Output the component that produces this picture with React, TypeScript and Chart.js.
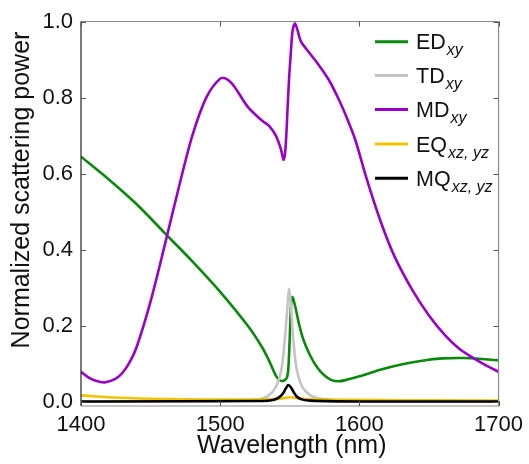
import React, { useEffect, useRef } from "react";
import { Chart, registerables } from "chart.js";

Chart.register(...registerables);

const xTicks = [1400, 1500, 1600, 1700];
const yTicks = [0, 0.2, 0.4, 0.6, 0.8, 1.0];

const edX = [1400, 1420, 1440, 1460, 1480, 1500, 1520, 1530, 1535, 1540, 1543, 1546, 1548, 1549, 1550, 1551, 1552, 1554, 1557, 1560, 1565, 1570, 1575, 1580, 1585, 1590, 1600, 1615, 1630, 1645, 1660, 1675, 1690, 1700];
const edY = [0.645, 0.585, 0.52, 0.445, 0.37, 0.29, 0.2, 0.145, 0.11, 0.07, 0.057, 0.057, 0.065, 0.09, 0.17, 0.26, 0.276, 0.25, 0.2, 0.162, 0.12, 0.09, 0.07, 0.058, 0.055, 0.058, 0.068, 0.085, 0.099, 0.109, 0.115, 0.116, 0.113, 0.11];

const tdX = [1400, 1500, 1520, 1530, 1535, 1540, 1543, 1545, 1547, 1548.5, 1549.5, 1550.5, 1552, 1554, 1556, 1559, 1565, 1575, 1600, 1700];
const tdY = [0.001, 0.002, 0.005, 0.01, 0.018, 0.04, 0.07, 0.11, 0.19, 0.26, 0.298, 0.27, 0.19, 0.11, 0.07, 0.04, 0.018, 0.008, 0.003, 0.001];

const mdX = [1400, 1405, 1410, 1417, 1425, 1430, 1435, 1440, 1450, 1460, 1470, 1480, 1490, 1500, 1505, 1510, 1520, 1530, 1535.3, 1540, 1543.6, 1545.5, 1546.5, 1547.5, 1548.4, 1549.5, 1550.8, 1552, 1553.7, 1555.5, 1558, 1564, 1570, 1578, 1585, 1591, 1597, 1605, 1615, 1625, 1638, 1650, 1662, 1672, 1682, 1691, 1700];
const mdY = [0.08, 0.066, 0.057, 0.052, 0.062, 0.078, 0.105, 0.145, 0.265, 0.41, 0.56, 0.7, 0.8, 0.85, 0.848, 0.83, 0.775, 0.74, 0.725, 0.7, 0.665, 0.637, 0.65, 0.7, 0.77, 0.85, 0.92, 0.975, 0.995, 0.978, 0.948, 0.918, 0.89, 0.847, 0.797, 0.747, 0.69, 0.59, 0.478, 0.385, 0.295, 0.228, 0.174, 0.14, 0.116, 0.097, 0.08];

const eqX = [1400, 1420, 1450, 1500, 1530, 1545, 1550, 1555, 1565, 1600, 1650, 1700];
const eqY = [0.018, 0.013, 0.009, 0.007, 0.007, 0.01, 0.013, 0.011, 0.008, 0.006, 0.005, 0.004];

const mqX = [1400, 1530, 1538, 1542, 1545, 1547, 1549, 1551, 1553, 1555, 1558, 1565, 1600, 1700];
const mqY = [0.002, 0.003, 0.006, 0.012, 0.022, 0.035, 0.045, 0.038, 0.025, 0.015, 0.008, 0.004, 0.002, 0.002];

const legendMain = ["ED", "TD", "MD", "EQ", "MQ"];
const legendSub = ["xy", "xy", "xy", "xz, yz", "xz, yz"];
const colors = ["#0a8a0a", "#c4c4c4", "#9a00cc", "#f2c400", "#000000"];

const FONT = "'Liberation Sans', Arial, sans-serif";

const pts = (xs: number[], ys: number[]) => xs.map((x, i) => ({ x, y: ys[i] }));

const framePlugin = {
  id: "frame",
  afterDraw(chart: any) {
    const { ctx, chartArea: a, scales } = chart;
    const xs = scales.x, ys = scales.y;
    ctx.save();
    ctx.lineWidth = 1.2;
    ctx.strokeStyle = "#8a8a8a";
    ctx.beginPath();
    ctx.moveTo(a.left, a.top); ctx.lineTo(a.right, a.top); ctx.lineTo(a.right, a.bottom); ctx.lineTo(a.left, a.bottom);
    ctx.stroke();
    ctx.strokeStyle = "#222";
    ctx.beginPath();
    ctx.moveTo(a.left, a.top); ctx.lineTo(a.left, a.bottom);
    ctx.stroke();
    ctx.strokeStyle = "#555";
    ctx.lineWidth = 1;
    const tl = 5;
    xTicks.forEach((v) => {
      const px = Math.round(xs.getPixelForValue(v)) + 0.5;
      ctx.beginPath();
      ctx.moveTo(px, a.bottom); ctx.lineTo(px, a.bottom - tl);
      ctx.moveTo(px, a.top); ctx.lineTo(px, a.top + tl);
      ctx.stroke();
    });
    yTicks.forEach((v) => {
      const py = Math.round(ys.getPixelForValue(v)) + 0.5;
      ctx.beginPath();
      ctx.moveTo(a.left, py); ctx.lineTo(a.left + tl, py);
      ctx.moveTo(a.right, py); ctx.lineTo(a.right - tl, py);
      ctx.stroke();
    });
    ctx.fillStyle = "#111";
    ctx.font = `25px ${FONT}`;
    ctx.textAlign = "center";
    ctx.textBaseline = "middle";
    ctx.fillText("Wavelength (nm)", (a.left + a.right) / 2 + 2, 446);
    ctx.save();
    ctx.translate(22, 190);
    ctx.rotate(-Math.PI / 2);
    ctx.fillText("Normalized scattering power", 0, 0);
    ctx.restore();
    const rows = [41.7, 75.5, 109.5, 144, 178.3];
    rows.forEach((ry, i) => {
      ctx.strokeStyle = colors[i];
      ctx.lineWidth = 3;
      ctx.beginPath();
      ctx.moveTo(375, ry); ctx.lineTo(408, ry);
      ctx.stroke();
      ctx.fillStyle = "#111";
      ctx.textAlign = "left";
      ctx.textBaseline = "alphabetic";
      ctx.font = `21.5px ${FONT}`;
      const base = ry + 7.5;
      ctx.fillText(legendMain[i], 416, base);
      const w = ctx.measureText(legendMain[i]).width;
      ctx.font = `italic 16px ${FONT}`;
      ctx.fillText(legendSub[i], 416 + w + 1, base + 6);
    });
    ctx.restore();
  },
};

export default function App() {
  const ref = useRef<HTMLCanvasElement>(null);
  useEffect(() => {
    document.body.style.margin = "0";
    const ds = [
      { label: "ED", data: pts(edX, edY), color: colors[0], order: 5, mono: false },
      { label: "TD", data: pts(tdX, tdY), color: colors[1], order: 4, mono: true },
      { label: "MD", data: pts(mdX, mdY), color: colors[2], order: 3, mono: false },
      { label: "EQ", data: pts(eqX, eqY), color: colors[3], order: 2, mono: true },
      { label: "MQ", data: pts(mqX, mqY), color: colors[4], order: 1, mono: true },
    ];
    const chart = new Chart(ref.current!, {
      type: "line",
      data: {
        datasets: ds.map((d) => ({
          label: d.label,
          data: d.data,
          borderColor: d.color,
          backgroundColor: d.color,
          borderWidth: 2.6,
          pointRadius: 0,
          cubicInterpolationMode: d.mono ? ("monotone" as const) : ("default" as const),
          tension: d.mono ? 0 : 0.3,
          fill: false,
          order: d.order,
        })),
      },
      options: {
        responsive: false,
        animation: false,
        layout: { padding: { top: 21.5, right: 29, left: 0, bottom: 0 } },
        plugins: { legend: { display: false }, tooltip: { enabled: false } },
        scales: {
          x: {
            type: "linear",
            min: 1400,
            max: 1700,
            grid: { display: false, drawTicks: false },
            border: { display: false },
            afterBuildTicks: (s: any) => { s.ticks = xTicks.map((v) => ({ value: v })); },
            afterFit: (s: any) => { s.height = 58; },
            ticks: { color: "#111", font: { family: FONT, size: 22 }, padding: 6, maxRotation: 0, callback: (v: any) => String(v) },
          },
          y: {
            type: "linear",
            min: -0.01,
            max: 1.0,
            grid: { display: false, drawTicks: false },
            border: { display: false },
            afterBuildTicks: (s: any) => { s.ticks = yTicks.map((v) => ({ value: v })); },
            afterFit: (s: any) => { s.width = 81; },
            ticks: { color: "#111", font: { family: FONT, size: 22 }, padding: 8, callback: (v: any) => Number(v).toFixed(1) },
          },
        },
      },
      plugins: [framePlugin],
    });
    return () => chart.destroy();
  }, []);
  return (
    <div style={{ width: 529, height: 464, background: "#fff" }}>
      <canvas ref={ref} width={529} height={464} style={{ display: "block" }} />
    </div>
  );
}
